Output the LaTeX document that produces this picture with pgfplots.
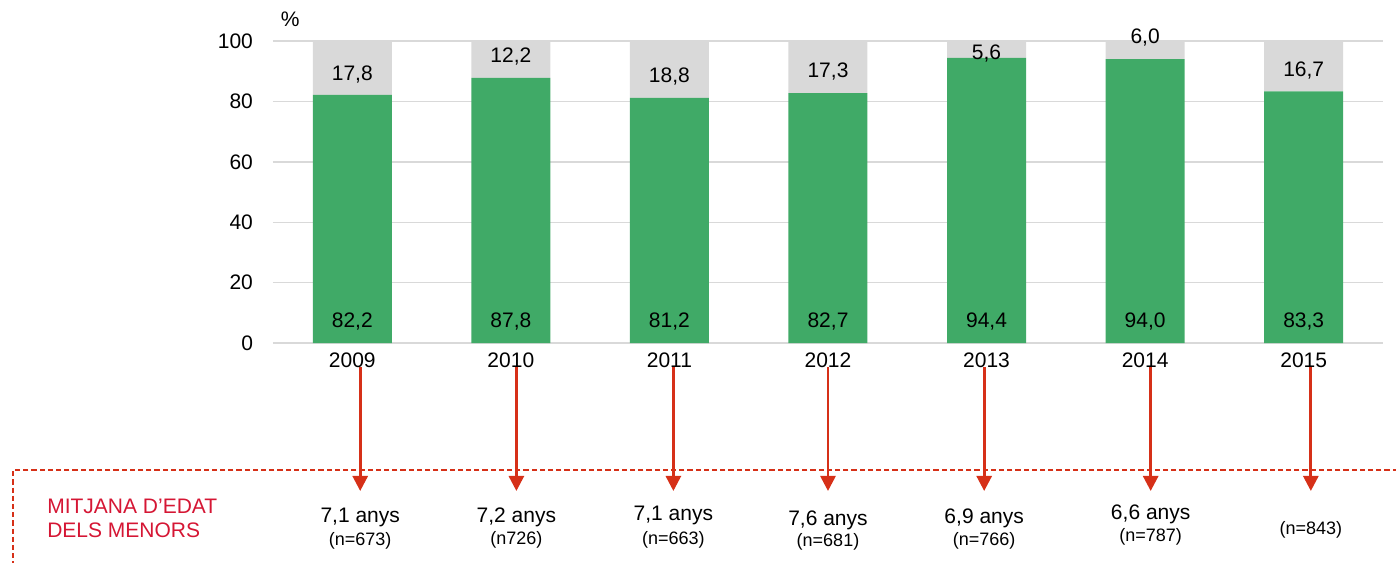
\documentclass[border=0pt]{standalone}
\usepackage{pgfplots}
\pgfplotsset{compat=1.18}
\usepackage{pgfplotstable}
\usepackage{fontspec}
\setmainfont{Liberation Sans}
\usetikzlibrary{arrows.meta}

\definecolor{barGreen}{RGB}{64,170,103}
\definecolor{barGray}{RGB}{217,217,217}
\definecolor{gridGray}{RGB}{217,217,217}
\definecolor{arrowRed}{RGB}{214,48,24}
\definecolor{labelRed}{RGB}{213,22,52}

% x: year index; green/gray: shares (%); gy, ly: label positions
\pgfplotstableread{
x  green gray  gy     ly
0  82.2  17.8  89.5   7.6
1  87.8  12.2  95.4   7.6
2  81.2  18.8  88.7   7.6
3  82.7  17.3  90.4   7.6
4  94.4  5.6   96.4   7.6
5  94.0  6.0   101.7  7.6
6  83.3  16.7  90.7   7.6
}\shares

\tikzset{
  agestyle/.style={anchor=base, font=\fontsize{10.5}{12}\selectfont},
  nstyle/.style={anchor=base, font=\fontsize{9}{11}\selectfont},
}

\begin{document}
\begin{tikzpicture}
\pgfplotsset{
  frame/.style={
    at={(0,0)}, anchor=south west,
    scale only axis, width=555pt, height=151pt,
    xmin=-0.5, xmax=6.5, ymin=0, ymax=100,
    clip=false,
  },
}
\begin{axis}[
    frame,
    ybar stacked,
    bar width=39.5pt,
    xtick={0,1,2,3,4,5,6},
    xticklabels={2009,2010,2011,2012,2013,2014,2015},
    ytick={0,20,40,60,80,100},
    ymajorgrids,
    grid style={gridGray, line width=0.7pt},
    axis line style={draw=none},
    major tick length=0pt,
    tick label style={font=\fontsize{10.5}{12}\selectfont},
    /pgf/number format/assume math mode=true,
    yticklabel style={xshift=-6.5pt},
    xticklabel style={yshift=-1.4pt},
]
\addplot[fill=barGreen, draw=none] table[x=x, y=green]{\shares};
\addplot[fill=barGray, draw=none] table[x=x, y=gray]{\shares};

% unit sign
\node[font=\fontsize{10.5}{12}\selectfont] at (axis cs:-0.391,107.1) {\%};

% arrows down to the mean age row
\pgfplotsinvokeforeach{0.05,1.035,2.025,3.0,3.985,5.035,6.045}{
  \draw[arrowRed, line width=1.35pt, -{Triangle[width=7.5pt,length=7.5pt]}]
    (axis cs:#1,-7.9) -- (axis cs:#1,-49);
}

% dashed frame of the lower panel
\draw[arrowRed, line width=0.95pt, dash pattern=on 2.6pt off 1.5pt]
  (axis cs:6.8,-42.05) -- (axis cs:-2.139,-42.05) -- (axis cs:-2.139,-80);

\node[anchor=base west, inner sep=0pt, text=labelRed, font=\fontsize{10.5}{12}\selectfont]
  at (axis cs:-1.926,-56.3) {MITJANA D’EDAT};
\node[anchor=base west, inner sep=0pt, text=labelRed, font=\fontsize{10.5}{12}\selectfont]
  at (axis cs:-1.926,-64.5) {DELS MENORS};

% mean age and sample size
\node[agestyle] at (axis cs:0.05,-59.5)  {7,1 anys};
\node[nstyle]   at (axis cs:0.05,-67.1)  {(n=673)};
\node[agestyle] at (axis cs:1.035,-59.5) {7,2 anys};
\node[nstyle]   at (axis cs:1.035,-66.8) {(n726)};
\node[agestyle] at (axis cs:2.025,-58.8) {7,1 anys};
\node[nstyle]   at (axis cs:2.025,-66.6) {(n=663)};
\node[agestyle] at (axis cs:3.0,-60.5)   {7,6 anys};
\node[nstyle]   at (axis cs:3.0,-67.3)   {(n=681)};
\node[agestyle] at (axis cs:3.985,-59.9) {6,9 anys};
\node[nstyle]   at (axis cs:3.985,-67.1) {(n=766)};
\node[agestyle] at (axis cs:5.035,-58.6) {6,6 anys};
\node[nstyle]   at (axis cs:5.035,-65.7) {(n=787)};
\node[nstyle]   at (axis cs:6.045,-63.5) {(n=843)};
\end{axis}

% value labels, same geometry as the bars
\begin{axis}[
    frame,
    hide axis,
    every node near coord/.append style={anchor=center, yshift=-0.75pt,
      text=black, font=\fontsize{10.5}{12}\selectfont},
    /pgf/number format/.cd, use comma, fixed, fixed zerofill, precision=1,
    assume math mode=true,
]
\addplot[draw=none, mark=none, nodes near coords, point meta=\thisrow{green}]
  table[x=x, y=ly]{\shares};
\addplot[draw=none, mark=none, nodes near coords, point meta=\thisrow{gray}]
  table[x=x, y=gy]{\shares};
\end{axis}

\pgfresetboundingbox
\path[use as bounding box] (-136.5pt,-109.5pt) rectangle (561.5pt,171.5pt);
\end{tikzpicture}
\end{document}
